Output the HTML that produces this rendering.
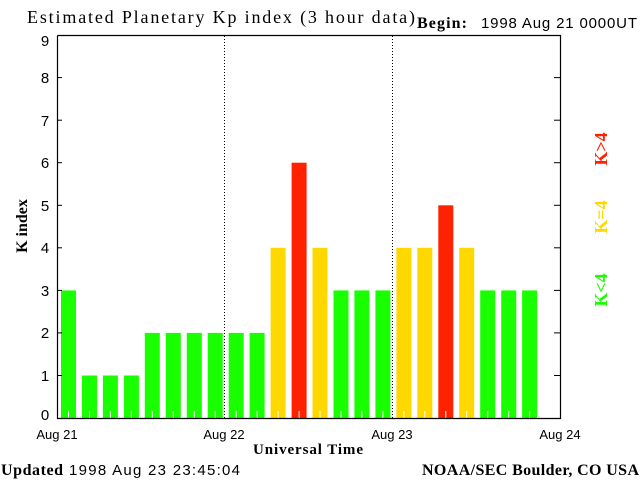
<!DOCTYPE html>
<html><head><style>
html,body{margin:0;padding:0;background:#fff;width:640px;height:480px;overflow:hidden}
</style></head><body>
<svg width="640" height="480" xmlns="http://www.w3.org/2000/svg" font-family="Liberation Sans, sans-serif">
<rect width="640" height="480" fill="#fff"/>
<g>
<rect x="61.0" y="290.4" width="15" height="127.6" fill="#1aff00"/>
<rect x="82.0" y="375.5" width="15" height="42.5" fill="#1aff00"/>
<rect x="102.9" y="375.5" width="15" height="42.5" fill="#1aff00"/>
<rect x="123.9" y="375.5" width="15" height="42.5" fill="#1aff00"/>
<rect x="144.8" y="332.9" width="15" height="85.1" fill="#1aff00"/>
<rect x="165.8" y="332.9" width="15" height="85.1" fill="#1aff00"/>
<rect x="186.8" y="332.9" width="15" height="85.1" fill="#1aff00"/>
<rect x="207.7" y="332.9" width="15" height="85.1" fill="#1aff00"/>
<rect x="228.7" y="332.9" width="15" height="85.1" fill="#1aff00"/>
<rect x="249.6" y="332.9" width="15" height="85.1" fill="#1aff00"/>
<rect x="270.6" y="247.8" width="15" height="170.2" fill="#ffd800"/>
<rect x="291.6" y="162.7" width="15" height="255.3" fill="#ff2200"/>
<rect x="312.5" y="247.8" width="15" height="170.2" fill="#ffd800"/>
<rect x="333.5" y="290.4" width="15" height="127.6" fill="#1aff00"/>
<rect x="354.4" y="290.4" width="15" height="127.6" fill="#1aff00"/>
<rect x="375.4" y="290.4" width="15" height="127.6" fill="#1aff00"/>
<rect x="396.4" y="247.8" width="15" height="170.2" fill="#ffd800"/>
<rect x="417.3" y="247.8" width="15" height="170.2" fill="#ffd800"/>
<rect x="438.3" y="205.3" width="15" height="212.7" fill="#ff2200"/>
<rect x="459.2" y="247.8" width="15" height="170.2" fill="#ffd800"/>
<rect x="480.2" y="290.4" width="15" height="127.6" fill="#1aff00"/>
<rect x="501.2" y="290.4" width="15" height="127.6" fill="#1aff00"/>
<rect x="522.1" y="290.4" width="15" height="127.6" fill="#1aff00"/>
</g>
<g stroke="#fff" stroke-width="1">
<line x1="68.5" y1="411" x2="68.5" y2="418"/><line x1="89.5" y1="411" x2="89.5" y2="418"/>
<line x1="110.4" y1="411" x2="110.4" y2="418"/><line x1="131.4" y1="411" x2="131.4" y2="418"/>
<line x1="152.3" y1="411" x2="152.3" y2="418"/><line x1="173.3" y1="411" x2="173.3" y2="418"/>
<line x1="194.3" y1="411" x2="194.3" y2="418"/><line x1="215.2" y1="411" x2="215.2" y2="418"/>
<line x1="236.2" y1="411" x2="236.2" y2="418"/><line x1="257.1" y1="411" x2="257.1" y2="418"/>
<line x1="278.1" y1="411" x2="278.1" y2="418"/><line x1="299.1" y1="411" x2="299.1" y2="418"/>
<line x1="320.0" y1="411" x2="320.0" y2="418"/><line x1="341.0" y1="411" x2="341.0" y2="418"/>
<line x1="361.9" y1="411" x2="361.9" y2="418"/><line x1="382.9" y1="411" x2="382.9" y2="418"/>
<line x1="403.9" y1="411" x2="403.9" y2="418"/><line x1="424.8" y1="411" x2="424.8" y2="418"/>
<line x1="445.8" y1="411" x2="445.8" y2="418"/><line x1="466.7" y1="411" x2="466.7" y2="418"/>
<line x1="487.7" y1="411" x2="487.7" y2="418"/><line x1="508.7" y1="411" x2="508.7" y2="418"/>
<line x1="529.6" y1="411" x2="529.6" y2="418"/>
</g>
<g stroke="#000" stroke-width="1.2" fill="none">
<polyline points="57.5,35.5 560.5,35.5 560.5,418.5 57.5,418.5 57.5,35.5"/>
</g>
<g stroke="#000" stroke-width="1" stroke-dasharray="1,2">
<line x1="224.5" y1="36" x2="224.5" y2="418"/>
<line x1="392.5" y1="36" x2="392.5" y2="418"/>
</g>
<g stroke="#000" stroke-width="1">
<line x1="57" y1="375.5" x2="62" y2="375.5"/><line x1="554" y1="375.5" x2="560" y2="375.5"/>
<line x1="57" y1="332.9" x2="62" y2="332.9"/><line x1="554" y1="332.9" x2="560" y2="332.9"/>
<line x1="57" y1="290.4" x2="62" y2="290.4"/><line x1="554" y1="290.4" x2="560" y2="290.4"/>
<line x1="57" y1="247.8" x2="62" y2="247.8"/><line x1="554" y1="247.8" x2="560" y2="247.8"/>
<line x1="57" y1="205.3" x2="62" y2="205.3"/><line x1="554" y1="205.3" x2="560" y2="205.3"/>
<line x1="57" y1="162.7" x2="62" y2="162.7"/><line x1="554" y1="162.7" x2="560" y2="162.7"/>
<line x1="57" y1="120.2" x2="62" y2="120.2"/><line x1="554" y1="120.2" x2="560" y2="120.2"/>
<line x1="57" y1="77.6" x2="62" y2="77.6"/><line x1="554" y1="77.6" x2="560" y2="77.6"/>
</g>
<g font-size="15" fill="#000" text-anchor="middle">
<text x="45" y="420">0</text>
<text x="45" y="381">1</text>
<text x="45" y="338">2</text>
<text x="45" y="296">3</text>
<text x="45" y="253">4</text>
<text x="45" y="211">5</text>
<text x="45" y="168">6</text>
<text x="45" y="126">7</text>
<text x="45" y="83">8</text>
<text x="45" y="46">9</text>
</g>
<g font-size="13" fill="#000" text-anchor="middle">
<text x="57" y="439">Aug 21</text>
<text x="224" y="439">Aug 22</text>
<text x="392" y="439">Aug 23</text>
<text x="560" y="439">Aug 24</text>
</g>
<text x="253" y="454" font-family="Liberation Serif, serif" font-weight="bold" font-size="15" textLength="110">Universal Time</text>
<text x="27" y="23" font-family="Liberation Serif, serif" font-size="18" textLength="388">Estimated Planetary Kp index (3 hour data)</text>
<text x="417" y="28" font-family="Liberation Serif, serif" font-weight="bold" font-size="16" textLength="50">Begin:</text>
<text x="481" y="28" font-size="15" textLength="156">1998 Aug 21 0000UT</text>
<text x="27" y="226" transform="rotate(-90 27 226)" text-anchor="middle" font-family="Liberation Serif, serif" font-weight="bold" font-size="16">K index</text>
<text x="1" y="475" font-family="Liberation Serif, serif" font-weight="bold" font-size="16" textLength="62">Updated</text>
<text x="69" y="475" font-size="15" textLength="171">1998 Aug 23 23:45:04</text>
<text x="422" y="475" font-family="Liberation Serif, serif" font-weight="bold" font-size="16" textLength="217">NOAA/SEC Boulder, CO USA</text>
<g font-family="Liberation Serif, serif" font-weight="bold" font-size="18" text-anchor="middle">
<text transform="translate(607 149) rotate(-90)" fill="#ff2200">K&gt;4</text>
<text transform="translate(607 217) rotate(-90)" fill="#ffd800">K=4</text>
<text transform="translate(607 290) rotate(-90)" fill="#1aff00">K&lt;4</text>
</g>
</svg>
</body></html>
